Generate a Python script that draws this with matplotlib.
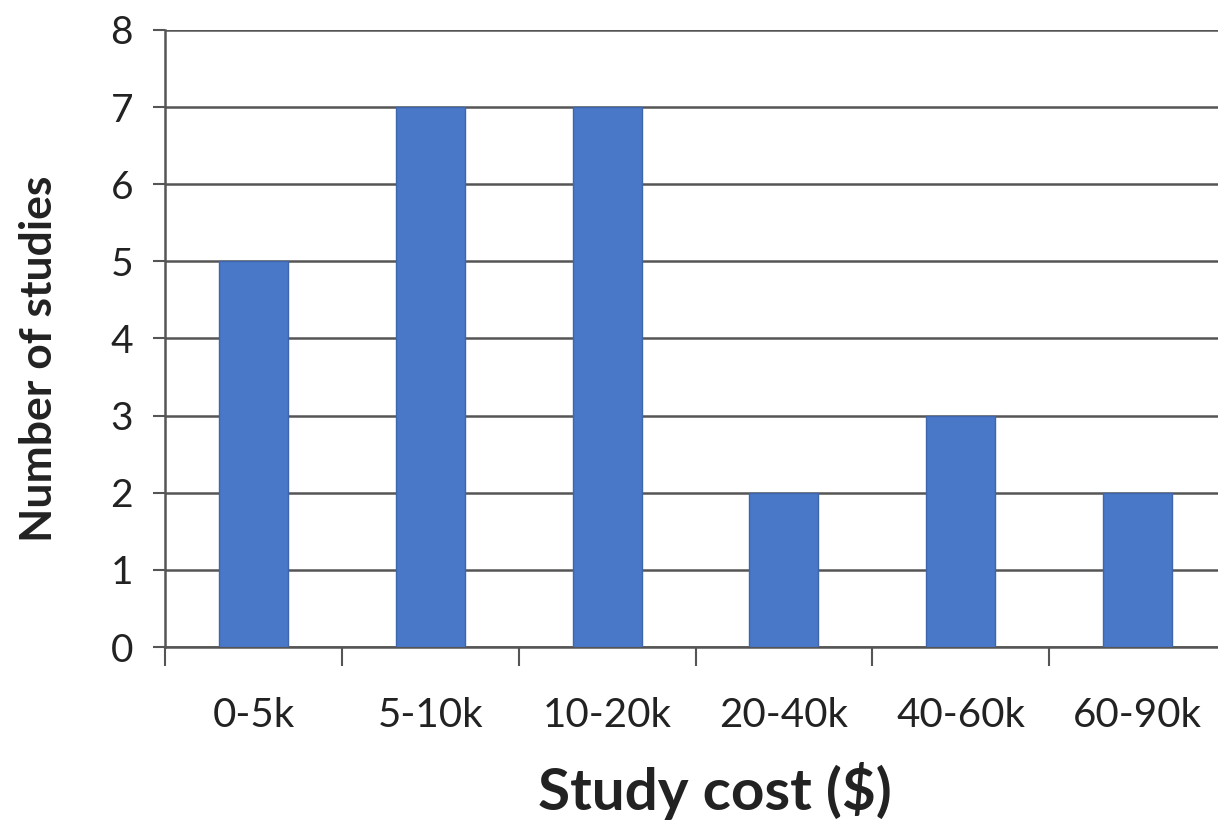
import numpy as np
import matplotlib.pyplot as plt

# ---------------- Data ----------------
categories = ["0-5k", "5-10k", "10-20k", "20-40k", "40-60k", "60-90k"]
counts = [5, 7, 7, 2, 3, 2]

plt.rcParams['font.family'] = ['Lato', 'DejaVu Sans']

fig = plt.figure(figsize=(12.18, 8.24), dpi=100)
ax = fig.add_axes([0.1355, 0.2148, 0.8711, 0.7488])

x = np.arange(len(categories))
ax.bar(x, counts, width=0.39, color='#4a78c8', edgecolor='#3f66ad', linewidth=1.0, zorder=3)

ax.set_xlim(-0.5, len(categories) - 0.5)
ax.set_ylim(0, 8)

# ---------------- Grid & axes ----------------
ax.set_yticks(range(0, 9))
ax.yaxis.grid(True, color='#555555', linewidth=1.8, zorder=0)
ax.tick_params(axis='y', length=9, width=1.5, color='#555555', labelsize=28, pad=14,
               labelcolor='#222222')

ax.set_xticks(x)
ax.set_xticklabels(categories)
ax.set_xticks(np.arange(len(categories) + 1) - 0.5, minor=True)
ax.tick_params(axis='x', which='major', length=0, labelsize=29, pad=36, labelcolor='#222222')
ax.tick_params(axis='x', which='minor', length=14, width=1.5, color='#555555')

for side in ['top', 'right']:
    ax.spines[side].set_visible(False)
ax.spines['left'].set_color('#555555')
ax.spines['left'].set_linewidth(1.8)
ax.spines['bottom'].set_color('#555555')
ax.spines['bottom'].set_linewidth(1.8)

# ---------------- Labels ----------------
ax.set_xlabel("Study cost ($)", fontsize=42, fontweight='bold', color='#222222')
ax.xaxis.set_label_coords(0.518, -0.187)
ax.set_ylabel("Number of studies", fontsize=32, fontweight='bold', color='#222222')
ax.yaxis.set_label_coords(-0.1, 0.467)

fig.savefig("out.png", dpi=100)
